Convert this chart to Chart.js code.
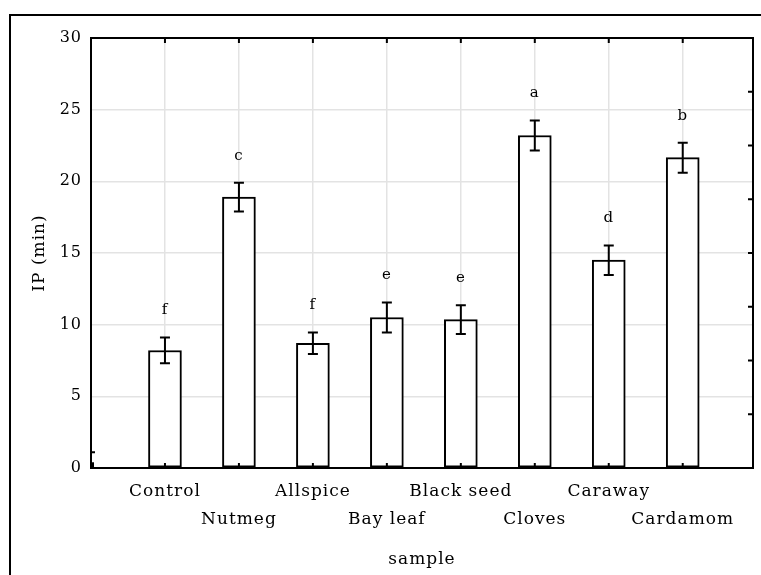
<!DOCTYPE html>
<html>
<head>
<meta charset="utf-8">
<script src="https://cdn.jsdelivr.net/npm/chart.js@4.4.1/dist/chart.umd.min.js"></script>
<style>
  html, body { margin: 0; padding: 0; background: #fff; }
  canvas { display: block; }
</style>
</head>
<body>
<canvas id="chart" width="761" height="575"></canvas>
<script>
const categories = ["Control", "Nutmeg", "Allspice", "Bay leaf", "Black seed", "Cloves", "Caraway", "Cardamom"];
const ipMeans = [8.2, 18.9, 8.7, 10.5, 10.35, 23.2, 14.5, 21.65];
const ipErrors = [0.9, 1.0, 0.75, 1.05, 1.0, 1.05, 1.03, 1.05];
const groupLetters = ["f", "c", "f", "e", "e", "a", "d", "b"];
const yTicks = [0, 5, 10, 15, 20, 25, 30];

const serif = "'DejaVu Serif', 'Liberation Serif', serif";

// the source figure uses slightly spaced-out lettering
const spacingPlugin = {
    id: "spacing",
    beforeDraw(chart) { chart.ctx.letterSpacing = "1px"; },
    afterDraw(chart) { chart.ctx.letterSpacing = "0px"; }
};

// error bars, letters, frame and the little inward ticks
const framePlugin = {
    id: "frame",
    afterDatasetsDraw(chart) {
        const { ctx, chartArea: a, scales: { x, y } } = chart;
        const meta = chart.getDatasetMeta(0);
        ctx.save();
        ctx.strokeStyle = "#000";
        ctx.fillStyle = "#000";
        ctx.lineWidth = 2;

        meta.data.forEach((bar, i) => {
            const top = y.getPixelForValue(ipMeans[i] + ipErrors[i]);
            const bot = y.getPixelForValue(ipMeans[i] - ipErrors[i]);
            ctx.beginPath();
            ctx.moveTo(bar.x, top); ctx.lineTo(bar.x, bot);
            ctx.moveTo(bar.x - 5, top); ctx.lineTo(bar.x + 5, top);
            ctx.moveTo(bar.x - 5, bot); ctx.lineTo(bar.x + 5, bot);
            ctx.stroke();

            ctx.font = "15px " + serif;
            ctx.textAlign = "center";
            ctx.textBaseline = "middle";
            ctx.fillText(groupLetters[i], bar.x, top - 27);
        });

        ctx.strokeRect(a.left, a.top, a.width, a.height);

        ctx.beginPath();
        categories.forEach((c, i) => {
            const px = x.getPixelForValue(i + 1);
            ctx.moveTo(px, a.top); ctx.lineTo(px, a.top + 5);
            ctx.moveTo(px, a.bottom); ctx.lineTo(px, a.bottom - 5);
        });
        for (let k = 1; k < 8; k++) {
            const py = y.getPixelForValue(k * 30 / 8);
            ctx.moveTo(a.right, py); ctx.lineTo(a.right - 5, py);
        }
        const py1 = y.getPixelForValue(1.1);
        ctx.moveTo(a.left, py1); ctx.lineTo(a.left + 4, py1);
        ctx.stroke();
        ctx.fillRect(a.left - 1, y.getPixelForValue(0.4), 4, y.getPixelForValue(0) - y.getPixelForValue(0.4));

        // outer border of the figure
        ctx.strokeRect(10, 15, 770, 590);
        ctx.restore();
    }
};

new Chart(document.getElementById("chart"), {
    type: "bar",
    data: {
        datasets: [{
            data: ipMeans.map((v, i) => ({ x: i + 1, y: v })),
            backgroundColor: "#fff",
            borderColor: "#000",
            borderWidth: 2,
            borderSkipped: false,
            barThickness: 33
        }]
    },
    options: {
        responsive: false,
        animation: false,
        devicePixelRatio: 1,
        layout: { padding: { top: 38, right: 8, left: 0, bottom: 0 } },
        plugins: { legend: { display: false }, tooltip: { enabled: false } },
        scales: {
            x: {
                type: "linear",
                offset: false,
                min: 0,
                max: 8.95,
                afterBuildTicks: (scale) => { scale.ticks = categories.map((c, i) => ({ value: i + 1 })); },
                afterFit: (scale) => { scale.height = 107; },
                grid: { color: "#e3e3e3", lineWidth: 1.5, drawTicks: false, offset: false },
                border: { display: false },
                ticks: {
                    color: "#000",
                    padding: 10,
                    maxRotation: 0,
                    autoSkip: false,
                    font: { family: serif, size: 17, lineHeight: 1.65 },
                    callback: (v) => {
                        const i = Math.round(v) - 1;
                        return i % 2 === 0 ? [categories[i]] : ["", categories[i]];
                    }
                },
                title: { display: true, text: "sample", color: "#000", font: { family: serif, size: 17 }, padding: { top: 0, bottom: 5 } }
            },
            y: {
                min: 0,
                max: 30,
                afterBuildTicks: (scale) => { scale.ticks = yTicks.map(v => ({ value: v })); },
                afterFit: (scale) => { scale.width = 91; },
                grid: { color: "#e3e3e3", lineWidth: 1.5, drawTicks: false },
                border: { display: false },
                ticks: { color: "#000", padding: 9, font: { family: serif, size: 16 } },
                title: { display: true, text: "IP (min)", color: "#000", font: { family: serif, size: 17 }, padding: { top: 29, bottom: 0 } }
            }
        }
    },
    plugins: [spacingPlugin, framePlugin]
});
</script>
</body>
</html>
